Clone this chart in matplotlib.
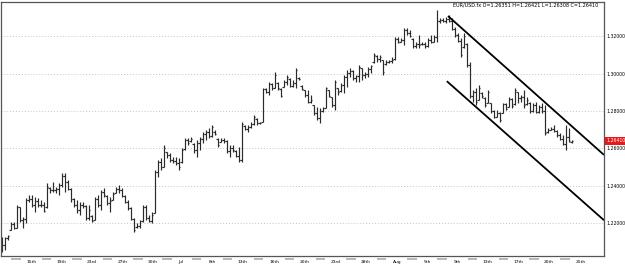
import numpy as np
import matplotlib
matplotlib.use('Agg')
import matplotlib.pyplot as plt
import matplotlib.transforms as mtransforms

plt.rcParams['font.family'] = ['DejaVu Sans']

# EUR/USD bars, oldest first
opens = [
    1.2100, 1.2082, 1.2120, 1.2165, 1.2195, 1.2175, 1.2285, 1.2215, 1.2225, 1.2325,
    1.2330, 1.2300, 1.2320, 1.2300, 1.2295, 1.2285, 1.2390, 1.2380, 1.2375, 1.2385,
    1.2405, 1.2455, 1.2420, 1.2385, 1.2330, 1.2300, 1.2270, 1.2300, 1.2290, 1.2230,
    1.2240, 1.2220, 1.2330, 1.2300, 1.2365, 1.2345, 1.2310, 1.2325, 1.2362, 1.2385,
    1.2375, 1.2345, 1.2315, 1.2280, 1.2225, 1.2180, 1.2185, 1.2210, 1.2285, 1.2230,
    1.2210, 1.2255, 1.2475, 1.2525, 1.2500, 1.2580, 1.2565, 1.2540, 1.2535, 1.2520,
    1.2525, 1.2595, 1.2645, 1.2640, 1.2625, 1.2590, 1.2630, 1.2650, 1.2675, 1.2690,
    1.2665, 1.2690, 1.2650, 1.2635, 1.2645, 1.2640, 1.2585, 1.2600, 1.2585, 1.2560,
    1.2540, 1.2720, 1.2705, 1.2715, 1.2730, 1.2755, 1.2735, 1.2740, 1.2915, 1.2900,
    1.2945, 1.2925, 1.2950, 1.2915, 1.2930, 1.2955, 1.2970, 1.2935, 1.2950, 1.2975,
    1.2935, 1.2910, 1.2885, 1.2850, 1.2830, 1.2790, 1.2760, 1.2800, 1.2815, 1.2910,
    1.2874, 1.2830, 1.2920, 1.2905, 1.2940, 1.2980, 1.3005, 1.3015, 1.2975, 1.2985,
    1.3030, 1.2990, 1.3000, 1.3025, 1.3060, 1.3095, 1.3080, 1.3070, 1.3050, 1.3060,
    1.3065, 1.3075, 1.3185, 1.3170, 1.3180, 1.3230, 1.3215, 1.3185, 1.3145, 1.3160,
    1.3155, 1.3160, 1.3145, 1.3180, 1.3170, 1.3195, 1.3280, 1.3285, 1.3280, 1.3290,
    1.3280, 1.3240, 1.3205, 1.3175, 1.3140, 1.3160, 1.3045, 1.2880, 1.2900, 1.2860,
    1.2895, 1.2870, 1.2845, 1.2840, 1.2800, 1.2770, 1.2790, 1.2790, 1.2835, 1.2820,
    1.2865, 1.2835, 1.2900, 1.2870, 1.2875, 1.2835, 1.2845, 1.2800, 1.2830, 1.2795,
    1.2820, 1.2800, 1.2685, 1.2700, 1.2705, 1.2695, 1.2670, 1.2650, 1.2625, 1.2660,
    1.26351,
]
highs = [
    1.2125, 1.2125, 1.2136, 1.2205, 1.2205, 1.2296, 1.2286, 1.2232, 1.2334, 1.2350,
    1.2350, 1.2339, 1.2334, 1.2323, 1.2312, 1.2414, 1.2392, 1.2419, 1.2392, 1.2414,
    1.2467, 1.2467, 1.2430, 1.2387, 1.2334, 1.2323, 1.2312, 1.2312, 1.2296, 1.2296,
    1.2243, 1.2339, 1.2350, 1.2376, 1.2387, 1.2350, 1.2339, 1.2366, 1.2392, 1.2403,
    1.2387, 1.2350, 1.2323, 1.2286, 1.2227, 1.2200, 1.2216, 1.2296, 1.2296, 1.2243,
    1.2259, 1.2483, 1.2537, 1.2548, 1.2617, 1.2580, 1.2574, 1.2553, 1.2553, 1.2548,
    1.2601, 1.2655, 1.2655, 1.2660, 1.2628, 1.2644, 1.2660, 1.2687, 1.2697, 1.2708,
    1.2724, 1.2697, 1.2655, 1.2655, 1.2655, 1.2644, 1.2617, 1.2617, 1.2590, 1.2606,
    1.2740, 1.2724, 1.2724, 1.2740, 1.2778, 1.2761, 1.2740, 1.2922, 1.2922, 1.2954,
    1.2949, 1.3007, 1.2954, 1.2922, 1.2965, 1.2991, 1.2975, 1.2965, 1.3029, 1.2981,
    1.2938, 1.2911, 1.2911, 1.2884, 1.2831, 1.2820, 1.2815, 1.2820, 1.2927, 1.2911,
    1.2874, 1.2965, 1.2922, 1.2949, 1.2991, 1.3018, 1.3029, 1.3018, 1.2991, 1.3045,
    1.3029, 1.3007, 1.3034, 1.3045, 1.3109, 1.3098, 1.3098, 1.3072, 1.3072, 1.3072,
    1.3088, 1.3195, 1.3195, 1.3189, 1.3243, 1.3243, 1.3232, 1.3189, 1.3168, 1.3205,
    1.3168, 1.3168, 1.3189, 1.3205, 1.3205, 1.3339, 1.3296, 1.3296, 1.3302, 1.3312,
    1.3296, 1.3248, 1.3216, 1.3189, 1.3216, 1.3163, 1.3061, 1.2911, 1.2922, 1.2938,
    1.2901, 1.2874, 1.2911, 1.2842, 1.2804, 1.2804, 1.2794, 1.2842, 1.2842, 1.2874,
    1.2868, 1.2922, 1.2901, 1.2884, 1.2911, 1.2874, 1.2847, 1.2842, 1.2847, 1.2831,
    1.2842, 1.2831, 1.2708, 1.2713, 1.2724, 1.2697, 1.2681, 1.2671, 1.2724, 1.2708,
    1.26421,
]
lows = [
    1.2045, 1.2056, 1.2109, 1.2162, 1.2168, 1.2173, 1.2205, 1.2173, 1.2200, 1.2312,
    1.2286, 1.2259, 1.2286, 1.2286, 1.2259, 1.2280, 1.2360, 1.2366, 1.2360, 1.2350,
    1.2392, 1.2366, 1.2376, 1.2312, 1.2286, 1.2253, 1.2243, 1.2280, 1.2216, 1.2216,
    1.2205, 1.2216, 1.2286, 1.2270, 1.2339, 1.2296, 1.2259, 1.2323, 1.2360, 1.2360,
    1.2339, 1.2307, 1.2270, 1.2216, 1.2152, 1.2173, 1.2173, 1.2205, 1.2216, 1.2205,
    1.2200, 1.2253, 1.2446, 1.2483, 1.2499, 1.2548, 1.2526, 1.2521, 1.2510, 1.2483,
    1.2521, 1.2590, 1.2617, 1.2633, 1.2574, 1.2553, 1.2590, 1.2628, 1.2644, 1.2655,
    1.2660, 1.2671, 1.2606, 1.2633, 1.2628, 1.2574, 1.2553, 1.2580, 1.2553, 1.2526,
    1.2526, 1.2697, 1.2687, 1.2708, 1.2724, 1.2724, 1.2729, 1.2740, 1.2895, 1.2884,
    1.2911, 1.2922, 1.2911, 1.2874, 1.2927, 1.2938, 1.2927, 1.2927, 1.2922, 1.2965,
    1.2911, 1.2874, 1.2842, 1.2842, 1.2778, 1.2751, 1.2735, 1.2794, 1.2815, 1.2874,
    1.2820, 1.2804, 1.2884, 1.2901, 1.2895, 1.2927, 1.2981, 1.2965, 1.2954, 1.2954,
    1.2965, 1.2975, 1.2981, 1.3002, 1.3056, 1.3061, 1.3061, 1.2991, 1.3045, 1.3056,
    1.3056, 1.3072, 1.3163, 1.3168, 1.3152, 1.3205, 1.3195, 1.3136, 1.3136, 1.3136,
    1.3152, 1.3136, 1.3141, 1.3163, 1.3168, 1.3168, 1.3270, 1.3275, 1.3270, 1.3275,
    1.3232, 1.3195, 1.3168, 1.3088, 1.3136, 1.3034, 1.2868, 1.2847, 1.2831, 1.2858,
    1.2868, 1.2820, 1.2842, 1.2788, 1.2761, 1.2767, 1.2740, 1.2788, 1.2804, 1.2820,
    1.2815, 1.2831, 1.2842, 1.2847, 1.2815, 1.2831, 1.2788, 1.2794, 1.2788, 1.2788,
    1.2788, 1.2671, 1.2681, 1.2697, 1.2687, 1.2660, 1.2644, 1.2617, 1.2590, 1.2633,
    1.26308,
]
closes = [
    1.2082, 1.2120, 1.2130, 1.2195, 1.2175, 1.2285, 1.2215, 1.2225, 1.2325, 1.2330,
    1.2300, 1.2320, 1.2300, 1.2295, 1.2265, 1.2395, 1.2380, 1.2375, 1.2385, 1.2405,
    1.2455, 1.2420, 1.2385, 1.2330, 1.2300, 1.2270, 1.2300, 1.2290, 1.2230, 1.2270,
    1.2210, 1.2330, 1.2300, 1.2365, 1.2350, 1.2310, 1.2320, 1.2355, 1.2385, 1.2375,
    1.2345, 1.2315, 1.2280, 1.2225, 1.2165, 1.2185, 1.2210, 1.2285, 1.2230, 1.2210,
    1.2245, 1.2475, 1.2525, 1.2500, 1.2600, 1.2565, 1.2540, 1.2535, 1.2520, 1.2500,
    1.2590, 1.2645, 1.2630, 1.2650, 1.2590, 1.2630, 1.2650, 1.2675, 1.2690, 1.2665,
    1.2715, 1.2675, 1.2620, 1.2645, 1.2640, 1.2585, 1.2600, 1.2590, 1.2560, 1.2540,
    1.2730, 1.2705, 1.2715, 1.2730, 1.2765, 1.2735, 1.2738, 1.2915, 1.2900, 1.2945,
    1.2920, 1.2990, 1.2920, 1.2880, 1.2955, 1.2980, 1.2935, 1.2950, 1.3020, 1.2970,
    1.2915, 1.2885, 1.2850, 1.2860, 1.2790, 1.2760, 1.2800, 1.2815, 1.2920, 1.2880,
    1.2830, 1.2955, 1.2900, 1.2940, 1.2980, 1.3005, 1.3015, 1.2975, 1.2985, 1.3035,
    1.2990, 1.3000, 1.3025, 1.3040, 1.3100, 1.3080, 1.3090, 1.3010, 1.3060, 1.3065,
    1.3070, 1.3185, 1.3170, 1.3180, 1.3230, 1.3215, 1.3200, 1.3145, 1.3160, 1.3150,
    1.3160, 1.3145, 1.3180, 1.3170, 1.3195, 1.3280, 1.3285, 1.3280, 1.3290, 1.3280,
    1.3240, 1.3205, 1.3175, 1.3100, 1.3200, 1.3045, 1.2880, 1.2900, 1.2850, 1.2925,
    1.2880, 1.2830, 1.2900, 1.2800, 1.2770, 1.2790, 1.2750, 1.2835, 1.2810, 1.2865,
    1.2825, 1.2910, 1.2870, 1.2875, 1.2830, 1.2860, 1.2800, 1.2830, 1.2795, 1.2820,
    1.2800, 1.2680, 1.2700, 1.2705, 1.2695, 1.2670, 1.2650, 1.2625, 1.2660, 1.2640,
    1.26410,
]

# hand-drawn channel (bar index, price)
upper_x = [148.7, 200.7]
upper_y = [1.3307, 1.2565]
lower_x = [148.3, 200.7]
lower_y = [1.2959, 1.2216]

price_ticks = [1.22, 1.24, 1.26, 1.28, 1.30, 1.32]
date_pos = [9.7, 20, 30, 40.3, 50.3, 59.7, 70, 80.3, 90.7, 101, 111.3, 121.3,
            131.7, 141.7, 151.7, 162, 172.3, 182.3, 193]
date_labels = ['15th', '19th', '23rd', '27th', '30th', 'Jul', '8th', '13th', '16th',
               '20th', '23rd', '28th', 'Aug', '5th', '9th', '13th', '17th', '20th', '25th']

fig = plt.figure(figsize=(6.25, 2.68), dpi=100)
ax = fig.add_axes([1 / 625, 12 / 268, 603 / 625, 254 / 268])

x = np.arange(len(closes))
bar_col = '#2a2a2a'
ax.vlines(x, lows, highs, color=bar_col, lw=0.85)
ax.hlines(opens, x - 0.5, x, color=bar_col, lw=0.85)
ax.hlines(closes, x, x + 0.5, color=bar_col, lw=0.85)

ax.plot(upper_x, upper_y, color='black', lw=1.3, solid_capstyle='butt')
ax.plot(lower_x, lower_y, color='black', lw=1.3, solid_capstyle='butt')

ax.set_xlim(-0.33, 200.7)
ax.set_ylim(1.2025, 1.3382)

ax.set_axisbelow(True)
ax.grid(axis='y', color='#c4c4c4', linestyle=(0, (1, 2)), lw=0.7)

ax.yaxis.tick_right()
ax.set_yticks(price_ticks, [f'{p:.5f}' for p in price_ticks])
ax.tick_params(axis='y', length=0, pad=1.5, labelsize=3.3, colors='black')
ax.set_xticks(date_pos, date_labels)
ax.tick_params(axis='x', length=0, pad=3.0, labelsize=3.2, colors='black')

for s in ax.spines.values():
    s.set_color('#555555')
    s.set_linewidth(0.9)

# little grey separators between the time labels
trans = mtransforms.blended_transform_factory(ax.transData, ax.transAxes)
prev = [date_pos[0] - 10.2] + date_pos[:-1]
for a, b in zip(prev, date_pos):
    m = (a + b) / 2
    ax.plot([m - 1.6, m + 1.6], [-0.013, -0.013], transform=trans, clip_on=False,
            color='#b8b8b8', lw=1.4, solid_capstyle='butt')

ax.text(0.990, 0.988, 'EUR/USD.fx O=1.26351 H=1.26421 L=1.26308 C=1.26410',
        transform=ax.transAxes, ha='right', va='center', fontsize=3.5)

ax.annotate(f'{closes[-1]:.5f}', xy=(1, closes[-1]), xycoords=('axes fraction', 'data'),
            xytext=(1.6, 0), textcoords='offset points', ha='left', va='center',
            color='white', fontsize=3.3, annotation_clip=False,
            bbox=dict(boxstyle='square,pad=0.3', fc='#e41a1c', ec='none'))

fig.savefig('out.png', dpi=100)
